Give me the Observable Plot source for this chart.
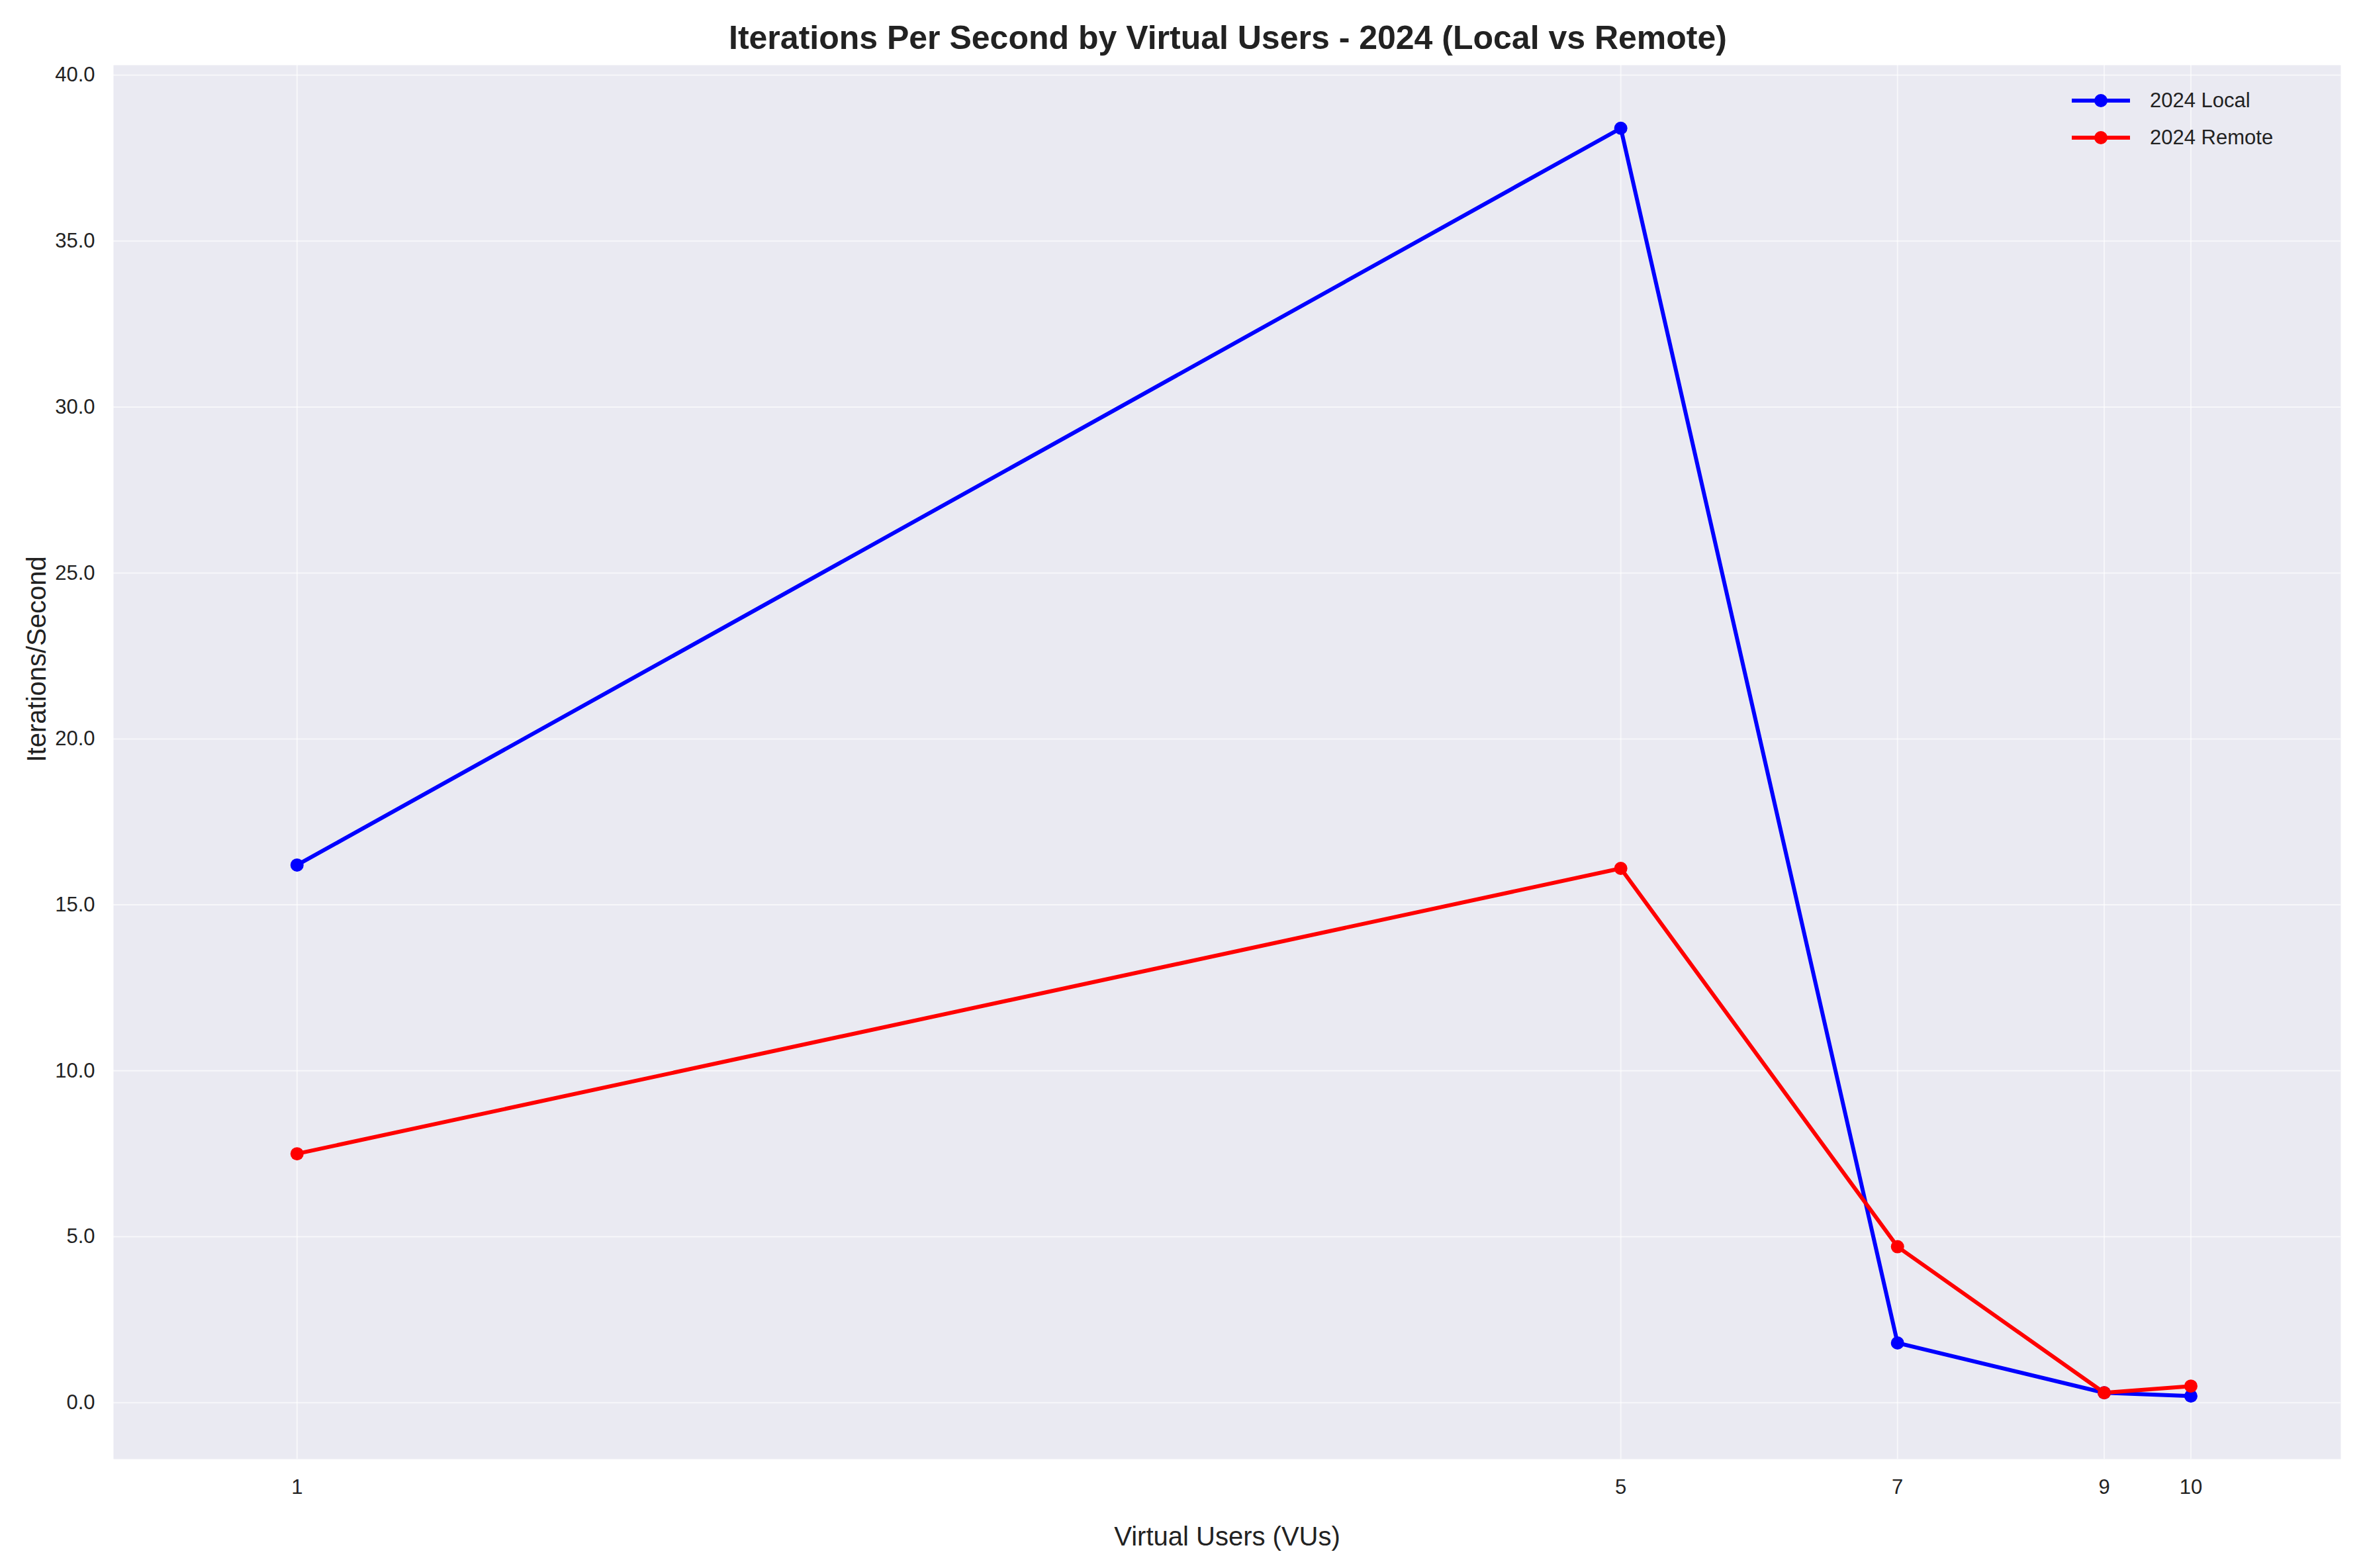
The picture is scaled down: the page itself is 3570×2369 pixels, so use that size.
<!DOCTYPE html>
<html>
<head>
<meta charset="UTF-8">
<script src="https://cdn.jsdelivr.net/npm/d3@7"></script>
<script src="https://cdn.jsdelivr.net/npm/@observablehq/plot@0.6"></script>
<style>
  body { margin: 0; background: #fff; font-family: "Liberation Sans", Arial, sans-serif; }
  #wrap { position: relative; width: 3570px; height: 2369px; }
  #title { height: 98px; line-height: 114px; text-align: center; font-weight: bold; font-size: 50px; color: #222; padding-left: 140px; }
  #legend { position: absolute; left: 3130px; top: 124px; font-size: 31px; color: #222; }
  .item { display: flex; align-items: center; height: 56px; }
  .sw { position: relative; width: 88px; height: 6px; margin-right: 30px; }
  .sw i { position: absolute; left: 34px; top: -7px; width: 20px; height: 20px; border-radius: 50%; }
</style>
</head>
<body>
<div id="wrap">
  <div id="title">Iterations Per Second by Virtual Users - 2024 (Local vs Remote)</div>
  <div id="chart"></div>
  <div id="legend"></div>
</div>
<script>
const vus = [1, 5, 7, 9, 10];
const local = [16.2, 38.4, 1.8, 0.3, 0.2];
const remote = [7.5, 16.1, 4.7, 0.3, 0.5];
const series = [
  { name: "2024 Local", color: "#0000ff", values: local },
  { name: "2024 Remote", color: "#ff0000", values: remote }
];
const yTicks = [0, 5, 10, 15, 20, 25, 30, 35, 40];

const rows = series.flatMap(s => vus.map((v, i) => ({ vu: v, ips: s.values[i], name: s.name, color: s.color })));

const chart = Plot.plot({
  width: 3570,
  height: 2271,
  marginLeft: 171,
  marginRight: 34,
  marginTop: 0,
  marginBottom: 165,
  style: { fontFamily: "Liberation Sans, Arial, sans-serif", fontSize: "30px", color: "#222", background: "#fff" },
  x: { type: "log", domain: [0.8, 12], label: null },
  y: { domain: [-1.7, 40.3], label: null },
  marks: [
    Plot.frame({ fill: "#eaeaf2", stroke: null }),
    Plot.gridX(vus, { stroke: "#fff", strokeOpacity: 0.6, strokeWidth: 2 }),
    Plot.gridY(yTicks, { stroke: "#fff", strokeOpacity: 0.6, strokeWidth: 2 }),
    Plot.line(rows, { x: "vu", y: "ips", z: "name", stroke: "color", strokeWidth: 6 }),
    Plot.dot(rows, { x: "vu", y: "ips", fill: "color", r: 10 }),
    Plot.axisX(vus, { tickFormat: d => String(d), tickSize: 0, tickPadding: 30, label: null, fontSize: 31, fill: "#222" }),
    Plot.axisY(yTicks, { tickSize: 0, tickPadding: 28, label: null, fontSize: 31, fill: "#222" }),
    Plot.text(["Virtual Users (VUs)"], { frameAnchor: "bottom", dy: 130, fontSize: 40, fill: "#222" }),
    Plot.text(["Iterations/Second"], { frameAnchor: "left", dx: -115, rotate: -90, fontSize: 40, fill: "#222" })
  ]
});
document.getElementById("chart").append(chart);

const leg = document.getElementById("legend");
for (const s of series) {
  const d = document.createElement("div");
  d.className = "item";
  d.innerHTML = `<span class="sw" style="background:${s.color}"><i style="background:${s.color}"></i></span>${s.name}`;
  leg.append(d);
}
</script>
</body>
</html>
